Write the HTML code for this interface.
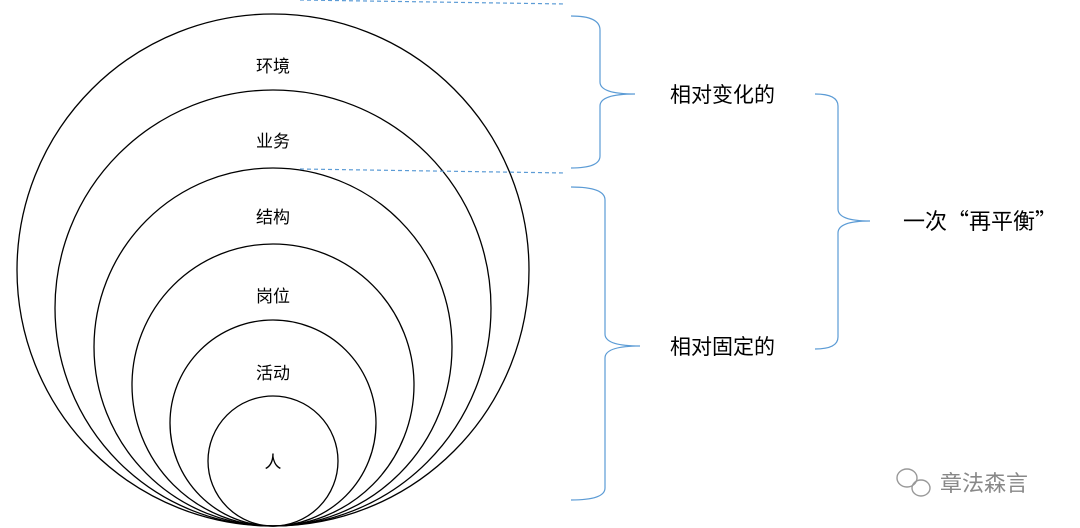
<!DOCTYPE html>
<html><head><meta charset="utf-8"><style>
html,body{margin:0;padding:0;background:#fff;}
svg{display:block;}
text{font-family:"Liberation Sans","Noto Sans CJK SC",sans-serif;}
</style></head><body>
<svg width="1080" height="528" viewBox="0 0 1080 528" xmlns="http://www.w3.org/2000/svg">
<g fill="none" stroke="#000" stroke-width="1.3">
<circle cx="273" cy="270" r="256"/>
<circle cx="273" cy="308" r="218"/>
<circle cx="273" cy="347" r="179"/>
<circle cx="273" cy="385" r="141"/>
<circle cx="273" cy="423" r="103"/>
<circle cx="273" cy="461" r="65"/>
</g>
<g font-size="17" text-anchor="middle" fill="#000">
<text x="273" y="72">环境</text>
<text x="273" y="147">业务</text>
<text x="273" y="223">结构</text>
<text x="273" y="302">岗位</text>
<text x="273" y="379">活动</text>
<text x="273" y="468">人</text>
</g>
<g stroke="#5b9bd5" stroke-width="1.2" fill="none">
<line x1="300" y1="0" x2="566" y2="4" stroke-dasharray="4,3"/>
<line x1="300" y1="169" x2="566" y2="173" stroke-dasharray="4,3"/>
<path d="M571 16 Q600 16 600 30 L600 82 Q600 94 635 94 Q600 94 600 106 L600 156 Q600 168 571 168"/>
<path d="M571 187 Q605 187 605 200 L605 334 Q605 346 640 346 Q605 346 605 358 L605 488 Q605 500 571 500"/>
<path d="M815 94 Q838 94 838 106 L838 209 Q838 221 870 221 Q838 221 838 233 L838 337 Q838 349 815 349"/>
</g>
<g font-size="21" fill="#000">
<text x="670" y="102">相对变化的</text>
<text x="670" y="354">相对固定的</text>
</g>
<text x="903" y="229" font-size="22" fill="#000" style='font-family:"Noto Sans CJK SC",sans-serif'>一次“再平衡”</text>
<g fill="none" stroke="#999" stroke-width="1.4">
<ellipse cx="907" cy="478" rx="10" ry="9"/>
<ellipse cx="921" cy="488" rx="9" ry="8"/>
</g>
<text x="940" y="491" font-size="22" fill="#888">章法森言</text>
</svg>
</body></html>
